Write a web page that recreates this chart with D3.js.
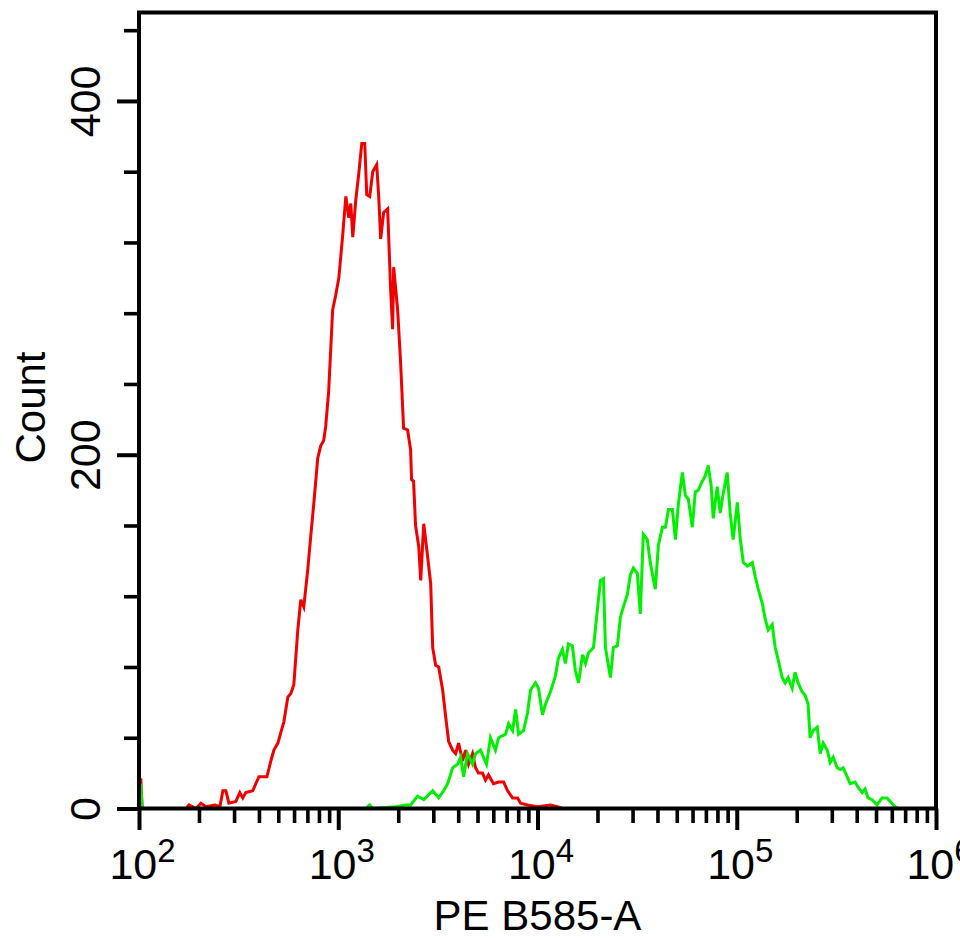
<!DOCTYPE html>
<html>
<head>
<meta charset="utf-8">
<script src="https://cdn.jsdelivr.net/npm/d3@7"></script>
<style>
  html, body { margin: 0; padding: 0; background: #fff; }
  svg { display: block; }
  text { font-family: "Liberation Sans", Arial, sans-serif; fill: #000; }
</style>
</head>
<body>
<svg id="chart" width="960" height="938"></svg>
<script>
// ---- Data ----
// x positions stored as log10 of PE B585-A intensity, counts per bin
const redDecade = [2.004, 2.009, 2.016, 2.236, 2.251, 2.286, 2.311, 2.336, 2.381, 2.406, 2.421, 2.436, 2.451, 2.486, 2.506, 2.521, 2.536, 2.571, 2.586, 2.602, 2.642, 2.662, 2.677, 2.697, 2.712, 2.727, 2.747, 2.762, 2.777, 2.797, 2.812, 2.827, 2.847, 2.862, 2.877, 2.897, 2.912, 2.927, 2.937, 2.952, 2.972, 2.987, 3.003, 3.023, 3.038, 3.053, 3.063, 3.073, 3.088, 3.103, 3.118, 3.133, 3.143, 3.158, 3.173, 3.193, 3.203, 3.213, 3.228, 3.248, 3.263, 3.273, 3.278, 3.298, 3.313, 3.328, 3.348, 3.363, 3.368, 3.378, 3.388, 3.404, 3.414, 3.429, 3.449, 3.464, 3.474, 3.489, 3.504, 3.524, 3.539, 3.554, 3.574, 3.589, 3.604, 3.624, 3.639, 3.654, 3.674, 3.689, 3.704, 3.724, 3.739, 3.754, 3.779, 3.805, 3.830, 3.850, 3.875, 3.900, 3.915, 3.950, 4.000, 4.065, 4.100, 4.125];
const redCount  = [0, 17, 0, 0, 2, 0, 3, 1, 2, 1, 10, 10, 3, 4, 9, 6, 9, 10, 14, 18, 18, 27, 33, 37, 43, 49, 63, 65, 70, 101, 118, 114, 135, 154, 172, 198, 205, 208, 216, 236, 282, 290, 300, 325, 346, 334, 342, 323, 344, 359, 376, 376, 347, 346, 360, 364, 346, 322, 337, 339, 293, 271, 306, 282, 252, 215, 214, 203, 186, 185, 160, 148, 129, 161, 142, 127, 91, 81, 80, 67, 52, 38, 33, 31, 37, 27, 33, 25, 31, 23, 20, 20, 16, 19, 14, 15, 15, 10, 6, 6, 3, 2, 1, 2, 1, 0];

const greenDecade = [2.004, 2.009, 2.016, 3.138, 3.158, 3.173, 3.288, 3.338, 3.363, 3.398, 3.429, 3.474, 3.504, 3.529, 3.549, 3.574, 3.599, 3.614, 3.629, 3.649, 3.674, 3.689, 3.714, 3.744, 3.764, 3.789, 3.805, 3.840, 3.855, 3.875, 3.890, 3.905, 3.930, 3.950, 3.965, 3.990, 4.005, 4.025, 4.040, 4.065, 4.090, 4.105, 4.125, 4.140, 4.155, 4.175, 4.190, 4.206, 4.226, 4.241, 4.256, 4.281, 4.301, 4.316, 4.331, 4.341, 4.366, 4.381, 4.401, 4.416, 4.431, 4.451, 4.466, 4.481, 4.501, 4.516, 4.531, 4.551, 4.566, 4.591, 4.607, 4.627, 4.642, 4.657, 4.677, 4.692, 4.707, 4.727, 4.742, 4.757, 4.777, 4.792, 4.807, 4.827, 4.842, 4.857, 4.872, 4.882, 4.902, 4.917, 4.932, 4.952, 4.967, 4.982, 5.003, 5.018, 5.033, 5.053, 5.078, 5.093, 5.108, 5.128, 5.143, 5.158, 5.178, 5.193, 5.208, 5.228, 5.243, 5.258, 5.278, 5.293, 5.308, 5.328, 5.343, 5.358, 5.368, 5.383, 5.404, 5.419, 5.434, 5.454, 5.469, 5.484, 5.504, 5.519, 5.534, 5.554, 5.569, 5.594, 5.609, 5.629, 5.644, 5.659, 5.679, 5.704, 5.729, 5.754, 5.779, 5.794, 5.809];
const greenCount  = [0, 14, 0, 0, 2, 0, 1, 2, 2, 7, 5, 10, 6, 10, 14, 23, 25, 29, 18, 31, 25, 31, 33, 25, 40, 33, 40, 42, 48, 44, 56, 42, 44, 54, 67, 71, 68, 53, 59, 66, 75, 85, 90, 82, 93, 92, 78, 71, 87, 82, 88, 91, 113, 129, 130, 91, 74, 91, 92, 108, 114, 121, 132, 136, 133, 110, 155, 152, 139, 124, 149, 159, 159, 169, 169, 152, 172, 190, 177, 175, 159, 179, 180, 185, 188, 194, 182, 164, 182, 167, 178, 190, 167, 152, 173, 152, 139, 137, 139, 131, 124, 116, 107, 101, 104, 91, 84, 74, 71, 74, 68, 77, 71, 66, 64, 59, 40, 44, 46, 31, 37, 33, 26, 29, 23, 22, 23, 18, 14, 15, 12, 9, 11, 6, 5, 2, 6, 6, 3, 1, 0];

const xMajorTicks = [1e2, 1e3, 1e4, 1e5, 1e6];
const xTickExponents = ["2", "3", "4", "5", "6"];
const yMajorTicks = [0, 200, 400];
const yMinorTicks = [40, 80, 120, 160, 240, 280, 320, 360, 440];
const xLabel = "PE B585-A";
const yLabel = "Count";

(function () {
  const svg = d3.select("#chart");
  const pLeft = 139, pRight = 936, pTop = 12.5, pBottom = 808.5;

  const x = d3.scaleLog().domain([1e2, 1e6]).range([pLeft, pRight]);
  const y = d3.scaleLinear().domain([0, 450]).range([pBottom, pTop]);

  const xMinorTicks = [];
  [1e2, 1e3, 1e4, 1e5].forEach(d => { for (let k = 2; k <= 9; k++) xMinorTicks.push(d * k); });

  const line = d3.line()
    .x(d => x(Math.pow(10, d[0])))
    .y(d => y(d[1]));

  const redData = redDecade.map((d, i) => [d, redCount[i]]);
  const greenData = greenDecade.map((d, i) => [d, greenCount[i]]);

  svg.append("path").datum(redData)
    .attr("d", line).attr("fill", "none").attr("stroke", "#f00000")
    .attr("stroke-width", 3).attr("stroke-linejoin", "miter");

  svg.append("path").datum(greenData)
    .attr("d", line).attr("fill", "none").attr("stroke", "#00f000")
    .attr("stroke-width", 3).attr("stroke-linejoin", "miter");

  // ---- Axes ----
  const xMinorAxis = svg.append("g").attr("transform", `translate(0,${pBottom})`)
    .call(d3.axisBottom(x).tickValues(xMinorTicks).tickSize(14.5).tickFormat(""));
  const xMajorAxis = svg.append("g").attr("transform", `translate(0,${pBottom})`)
    .call(d3.axisBottom(x).tickValues(xMajorTicks).tickSize(21.5).tickFormat(""));
  const yMinorAxis = svg.append("g").attr("transform", `translate(${pLeft},0)`)
    .call(d3.axisLeft(y).tickValues(yMinorTicks).tickSize(15).tickFormat(""));
  const yMajorAxis = svg.append("g").attr("transform", `translate(${pLeft},0)`)
    .call(d3.axisLeft(y).tickValues(yMajorTicks).tickSize(22).tickFormat(""));

  [xMinorAxis, xMajorAxis, yMinorAxis, yMajorAxis].forEach(g => {
    g.select(".domain").remove();
    g.selectAll(".tick line").attr("stroke", "#000").attr("stroke-width", 3.6);
    g.selectAll(".tick text").remove();
  });
  xMajorAxis.selectAll(".tick line").attr("stroke-width", 4);
  yMajorAxis.selectAll(".tick line").attr("stroke-width", 4);

  // frame
  svg.append("rect")
    .attr("x", pLeft).attr("y", pTop)
    .attr("width", pRight - pLeft).attr("height", pBottom - pTop)
    .attr("fill", "none").attr("stroke", "#000").attr("stroke-width", 4);

  // x tick labels with superscripts
  xMajorAxis.selectAll(".tick").each(function (d, i) {
    const t = d3.select(this).append("text")
      .attr("x", 3).attr("y", 879 - pBottom)
      .attr("text-anchor", "middle")
      .style("font-size", "43px");
    t.append("tspan").text("10");
    t.append("tspan").attr("dy", -17).style("font-size", "33px").text(xTickExponents[i]);
  });

  // y tick labels (rotated)
  yMajorAxis.selectAll(".tick").each(function (d) {
    d3.select(this).append("text")
      .attr("transform", `translate(${100 - pLeft},0) rotate(-90)`)
      .attr("text-anchor", "middle")
      .style("font-size", "43px")
      .text(d);
  });

  // axis titles
  svg.append("text")
    .attr("x", (pLeft + pRight) / 2).attr("y", 930)
    .attr("text-anchor", "middle")
    .style("font-size", "42px")
    .text(xLabel);

  svg.append("text")
    .attr("transform", `translate(45,${(pTop + pBottom) / 2 - 3}) rotate(-90)`)
    .attr("text-anchor", "middle")
    .style("font-size", "42px")
    .text(yLabel);
})();
</script>
</body>
</html>
